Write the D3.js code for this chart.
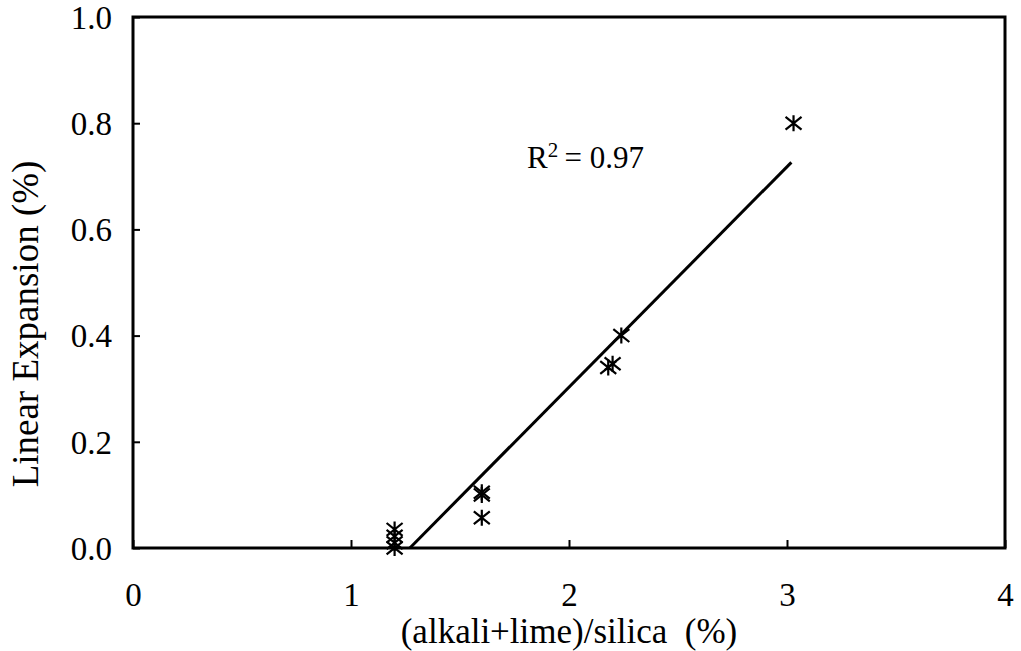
<!DOCTYPE html>
<html>
<head>
<meta charset="utf-8">
<script src="https://cdn.jsdelivr.net/npm/d3@7"></script>
<style>
  html, body { margin: 0; padding: 0; background: #fff; }
  svg { display: block; }
</style>
</head>
<body>
<svg id="chart" width="1021" height="651"></svg>
<script>
// Measured expansion versus (alkali+lime)/silica ratio
const ratio     = [1.20, 1.20, 1.20, 1.20, 1.60, 1.60, 1.60, 2.18, 2.20, 2.24, 3.03];
const expansion = [0.035, 0.022, 0.010, 0.000, 0.105, 0.100, 0.057, 0.340, 0.347, 0.400, 0.800];

// Linear trend line (slope, intercept) and its drawn range
const trendCoef  = [0.415, -0.527];
const trendRange = [1.27, 3.02];
const rSquared   = "0.97";

const xTicks = [0, 1, 2, 3, 4];
const yTicks = [0.0, 0.2, 0.4, 0.6, 0.8, 1.0];

const FONT = '"Liberation Serif", "Times New Roman", serif';

const svg = d3.select("#chart");
const m = { left: 133, right: 1005, top: 17, bottom: 548 };

const x = d3.scaleLinear().domain([0, 4]).range([m.left, m.right]);
const y = d3.scaleLinear().domain([0, 1]).range([m.bottom, m.top]);

// Ticks point inward; labels sit outside the frame
const xAxis = d3.axisBottom(x).tickValues(xTicks).tickFormat(d3.format("d"))
  .tickSizeInner(-8).tickSizeOuter(0);
const yAxis = d3.axisLeft(y).tickValues(yTicks).tickFormat(d3.format(".1f"))
  .tickSizeInner(-7).tickSizeOuter(0).tickPadding(21);

const gx = svg.append("g").attr("transform", `translate(0,${m.bottom})`).call(xAxis);
const gy = svg.append("g").attr("transform", `translate(${m.left},0)`).call(yAxis);
[gx, gy].forEach(g => {
  g.attr("font-family", FONT).attr("font-size", 33);
  g.select(".domain").remove();
  g.selectAll(".tick line").attr("stroke", "#000").attr("stroke-width", 2);
  g.selectAll(".tick text").attr("fill", "#000");
});
gx.selectAll(".tick text").attr("y", 58).attr("dy", 0);
gy.selectAll(".tick text").attr("dy", "0.34em");

// Plot frame
svg.append("rect")
  .attr("x", m.left).attr("y", m.top)
  .attr("width", m.right - m.left).attr("height", m.bottom - m.top)
  .attr("fill", "none").attr("stroke", "#000").attr("stroke-width", 3);

// Trend line
const line = d3.line().x(d => x(d)).y(d => y(trendCoef[0] * d + trendCoef[1]));
svg.append("path")
  .datum(trendRange)
  .attr("d", line)
  .attr("fill", "none").attr("stroke", "#000").attr("stroke-width", 3);

// Six-arm asterisk marker: vertical bar crossed by an X
const asterisk = {
  draw(ctx, size) {
    const r = Math.sqrt(size) / 2;
    ctx.moveTo(0, -r); ctx.lineTo(0, r);
    ctx.moveTo(-r, -r * 0.8); ctx.lineTo(r, r * 0.8);
    ctx.moveTo(-r, r * 0.8); ctx.lineTo(r, -r * 0.8);
  }
};
const star = d3.symbol().type(asterisk).size(256);
const pts = ratio.map((r, i) => [r, expansion[i]]);
svg.append("g").selectAll("path")
  .data(pts).join("path")
  .attr("transform", d => `translate(${x(d[0])},${y(d[1])})`)
  .attr("d", star)
  .attr("fill", "none").attr("stroke", "#000").attr("stroke-width", 2.2);

// R² annotation
const rt = svg.append("text").attr("x", 527).attr("y", 168)
  .attr("font-family", FONT).attr("font-size", 31);
rt.append("tspan").text("R");
rt.append("tspan").text("2").attr("dy", -11).attr("font-size", 21);
rt.append("tspan").text("\u2009= " + rSquared).attr("dy", 11);

// Axis titles
svg.append("text")
  .attr("x", (m.left + m.right) / 2).attr("y", 643)
  .attr("text-anchor", "middle")
  .attr("font-family", FONT).attr("font-size", 35)
  .text("(alkali+lime)/silica\u00a0\u00a0(%)");

svg.append("text")
  .attr("transform", `translate(38,324) rotate(-90)`)
  .attr("text-anchor", "middle")
  .attr("font-family", FONT).attr("font-size", 37)
  .text("Linear Expansion (%)");
</script>
</body>
</html>
